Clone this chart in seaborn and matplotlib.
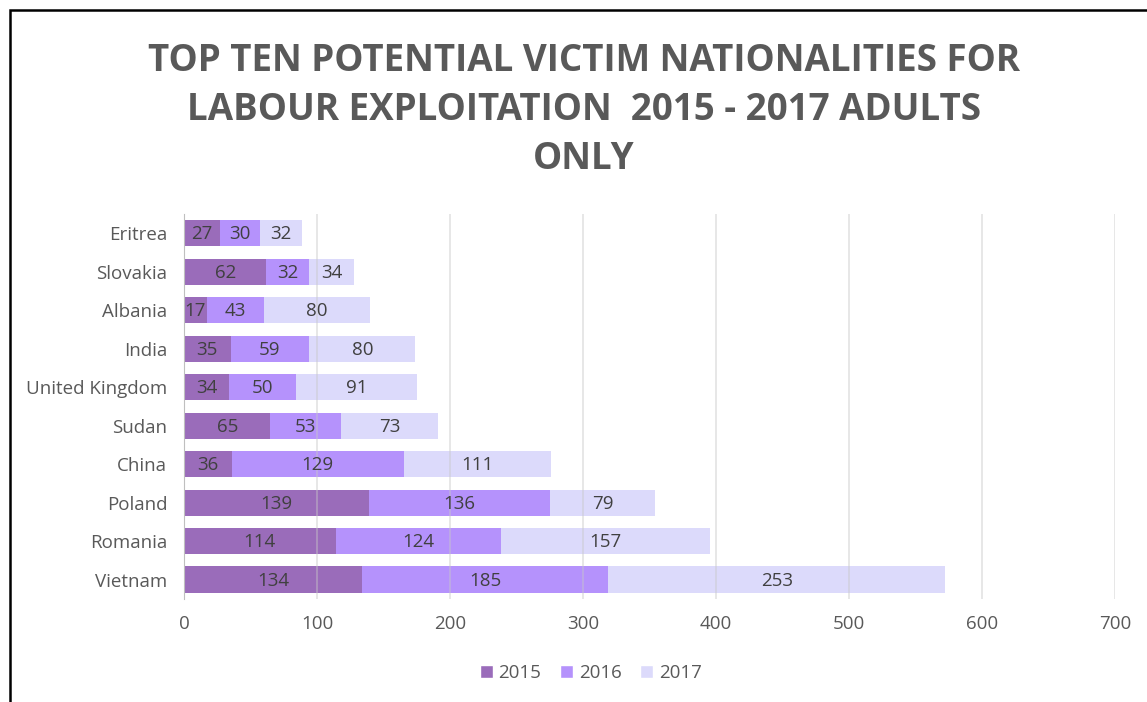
import matplotlib
matplotlib.use("Agg")
import matplotlib.pyplot as plt
import seaborn as sns
import pandas as pd
from matplotlib.patches import Rectangle, Patch

# data (top to bottom)
countries = ["Eritrea", "Slovakia", "Albania", "India", "United Kingdom",
             "Sudan", "China", "Poland", "Romania", "Vietnam"]
y2015 = [27, 62, 17, 35, 34, 65, 36, 139, 114, 134]
y2016 = [30, 32, 43, 59, 50, 53, 129, 136, 124, 185]
y2017 = [32, 34, 80, 80, 91, 73, 111, 79, 157, 253]
years = ["2015", "2016", "2017"]
colors = ["#9a6cba", "#b592fc", "#dcdafb"]

df = pd.DataFrame({"country": countries, "2015": y2015, "2016": y2016, "2017": y2017})
df["c2015"] = df["2015"]
df["c2016"] = df["2015"] + df["2016"]
df["c2017"] = df["c2016"] + df["2017"]

sns.set_style("white")
plt.rcParams["font.family"] = ["Open Sans", "DejaVu Sans"]

fig = plt.figure(figsize=(11.47, 7.02), dpi=100)
ax = fig.add_axes([0.1604, 0.147, 0.812, 0.548])

# stacked bars: draw cumulative totals, largest first
for yr, col in zip(years[::-1], colors[::-1]):
    sns.barplot(data=df, y="country", x="c" + yr, color=col, width=0.68,
                saturation=1, ax=ax, orient="h", linewidth=0)

# segment labels
for i, row in df.iterrows():
    start = 0
    for yr in years:
        v = row[yr]
        ax.text(start + v / 2, i + 0.03, str(v), ha="center", va="center",
                fontsize=13.5, color="#404040", zorder=6)
        start += v

ax.set_xlim(0, 700)
ax.set_xticks(range(0, 701, 100))
ax.set_xlabel("")
ax.set_ylabel("")
ax.tick_params(axis="x", labelsize=13.5, colors="#595959", length=0, pad=12)
ax.tick_params(axis="y", labelsize=13.5, colors="#595959", length=0, pad=12)
for s in ["top", "right", "bottom"]:
    ax.spines[s].set_visible(False)
ax.spines["left"].set_color("#bfbfbf")
ax.spines["left"].set_zorder(5)
for xv in range(100, 701, 100):
    ax.axvline(xv, color="#c8c8c8", lw=1.2, alpha=0.5, zorder=4)

fig.text(0.509, 0.94, "TOP TEN POTENTIAL VICTIM NATIONALITIES FOR\nLABOUR EXPLOITATION  2015 - 2017 ADULTS\nONLY",
         ha="center", va="top", fontsize=26.5, fontweight="bold", color="#595959",
         linespacing=1.38)

handles = [Patch(facecolor=c, label=y) for y, c in zip(years, colors)]
fig.legend(handles=handles, loc="center", bbox_to_anchor=(0.515, 0.041), ncol=3,
           frameon=False, fontsize=13.5, handlelength=0.7, handleheight=0.7,
           handletextpad=0.3, columnspacing=1.0, labelcolor="#595959")

# chart frame
fig.patches.append(Rectangle((0.0087, -0.05), 1.2, 1.0362, transform=fig.transFigure,
                             fill=False, edgecolor="black", lw=1.8))

fig.savefig("out.png", dpi=100)
